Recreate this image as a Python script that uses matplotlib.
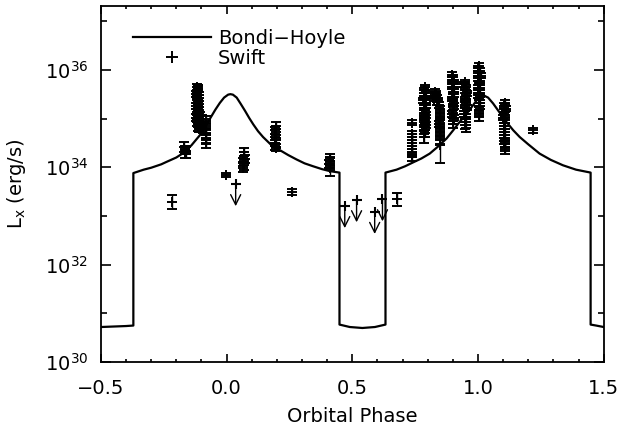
import numpy as np
import matplotlib
matplotlib.use('Agg')
import matplotlib.pyplot as plt
from matplotlib.lines import Line2D
from matplotlib.ticker import MultipleLocator, FixedLocator, FuncFormatter, NullFormatter, LogFormatterMathtext

plt.rc('font', family='DejaVu Sans', size=14)
plt.rc('axes', linewidth=1.3)

# Bondi-Hoyle model curve, log10 Lx (erg/s)
bh_phase = [-0.5, -0.45, -0.40, -0.371, -0.371, -0.33, -0.30, -0.26, -0.239, -0.20,
            -0.173, -0.14, -0.106, -0.085, -0.067, -0.045, -0.027, -0.01, 0.006, 0.015,
            0.025, 0.040, 0.055, 0.073, 0.090, 0.106, 0.125, 0.145, 0.175, 0.212,
            0.245, 0.278, 0.31, 0.344, 0.38, 0.411, 0.449, 0.449, 0.49, 0.54,
            0.59, 0.632, 0.632, 0.676, 0.71, 0.742, 0.775, 0.808, 0.84, 0.875,
            0.90, 0.927, 0.955, 0.980, 1.000, 1.020, 1.040, 1.06, 1.085, 1.113,
            1.14, 1.166, 1.20, 1.245, 1.29, 1.338, 1.39, 1.448, 1.448, 1.47, 1.5]
bh_loglx = [30.72, 30.73, 30.74, 30.75, 33.88, 33.95, 33.99, 34.06, 34.11, 34.20,
            34.29, 34.45, 34.66, 34.83, 34.99, 35.18, 35.32, 35.43, 35.49, 35.50,
            35.49, 35.43, 35.31, 35.16, 35.01, 34.88, 34.74, 34.62, 34.47, 34.35,
            34.25, 34.16, 34.08, 34.02, 33.96, 33.92, 33.89, 30.77, 30.72, 30.70,
            30.72, 30.77, 33.89, 33.95, 34.02, 34.10, 34.18, 34.28, 34.42, 34.59,
            34.75, 34.93, 35.10, 35.27, 35.41, 35.48, 35.43, 35.31, 35.13, 34.93,
            34.76, 34.62, 34.47, 34.28, 34.15, 34.04, 33.95, 33.89, 30.77, 30.75, 30.72]

# Swift detections: phase, log10 Lx, error (dex)
swift_phase = [
    -0.217,
    -0.168, -0.165, -0.162, -0.166, -0.160,
    -0.118, -0.115, -0.112, -0.120, -0.116, -0.110, -0.118, -0.113, -0.108, -0.121,
    -0.115, -0.110, -0.118, -0.112, -0.106, -0.120, -0.114, -0.108, -0.117, -0.111,
    -0.104, -0.115, -0.109, -0.100, -0.097, -0.102, -0.112, -0.109,
    -0.083, -0.081, -0.084, -0.082, -0.083, -0.081,
    -0.004,
    0.070, 0.068, 0.072, 0.066, 0.070, 0.067,
    0.195, 0.193, 0.196, 0.194, 0.197, 0.192, 0.196,
    0.262,
    0.410, 0.412, 0.408, 0.413, 0.410,
    0.676,
    0.738, 0.738, 0.736, 0.739, 0.737, 0.738, 0.736, 0.739, 0.737, 0.738,
    0.788, 0.784, 0.792, 0.786, 0.790, 0.783, 0.789, 0.794, 0.785, 0.791,
    0.787, 0.793, 0.784, 0.790, 0.786, 0.792, 0.788, 0.785, 0.790, 0.787,
    0.828, 0.834, 0.830, 0.838, 0.826, 0.842, 0.835, 0.846, 0.849, 0.847,
    0.850, 0.848, 0.846, 0.849, 0.847, 0.850, 0.848, 0.848,
    0.898, 0.902, 0.896, 0.904, 0.900, 0.897, 0.903, 0.899, 0.905, 0.901,
    0.896, 0.902, 0.899, 0.904, 0.900, 0.897, 0.903, 0.901, 0.899,
    0.950, 0.946, 0.954, 0.948, 0.956, 0.951, 0.947, 0.953, 0.949, 0.955,
    0.950, 0.946, 0.952, 0.948, 0.954, 0.950, 0.951,
    1.004, 1.000, 1.008, 1.002, 1.010, 0.999, 1.006, 1.003, 1.009, 1.001,
    1.005, 1.007, 1.002, 1.004, 1.008, 1.003, 1.006, 1.004, 1.005, 1.004,
    1.106, 1.102, 1.110, 1.104, 1.108, 1.101, 1.107, 1.105, 1.109, 1.103,
    1.106, 1.104, 1.108, 1.105, 1.107, 1.106, 1.106,
    1.217,
]
swift_loglx = [
    33.29,
    34.42, 34.36, 34.31, 34.28, 34.34,
    35.65, 35.60, 35.55, 35.50, 35.46, 35.42, 35.38, 35.34, 35.30, 35.26,
    35.22, 35.18, 35.14, 35.10, 35.06, 35.02, 34.98, 34.95, 34.92, 34.88,
    34.85, 34.82, 34.79, 34.86, 34.80, 35.00, 35.63, 35.48,
    34.98, 34.88, 34.78, 34.68, 34.58, 34.48,
    33.84,
    34.32, 34.24, 34.17, 34.10, 34.04, 33.99,
    34.85, 34.76, 34.66, 34.56, 34.48, 34.43, 34.40,
    33.49,
    34.18, 34.12, 34.07, 34.03, 33.98,
    33.34,
    34.91, 34.68, 34.62, 34.56, 34.50, 34.44, 34.38, 34.32, 34.26, 34.20,
    35.64, 35.58, 35.52, 35.47, 35.42, 35.37, 35.32, 35.27, 35.22, 35.17,
    35.12, 35.07, 35.02, 34.97, 34.92, 34.87, 34.82, 34.76, 34.70, 34.62,
    35.55, 35.52, 35.47, 35.43, 35.40, 35.38, 35.33, 35.28, 35.20, 35.12,
    35.04, 34.96, 34.88, 34.80, 34.72, 34.64, 34.55, 34.45,
    35.90, 35.85, 35.80, 35.75, 35.70, 35.65, 35.60, 35.55, 35.50, 35.45,
    35.40, 35.35, 35.30, 35.25, 35.18, 35.10, 35.02, 34.95, 34.88,
    35.75, 35.70, 35.64, 35.58, 35.52, 35.46, 35.40, 35.34, 35.28, 35.22,
    35.16, 35.10, 35.04, 34.98, 34.92, 34.86, 34.80,
    36.08, 36.03, 35.98, 35.93, 35.88, 35.83, 35.78, 35.73, 35.68, 35.63,
    35.58, 35.53, 35.48, 35.43, 35.38, 35.32, 35.25, 35.18, 35.10, 35.05,
    35.32, 35.26, 35.20, 35.14, 35.08, 35.02, 34.96, 34.90, 34.84, 34.78,
    34.72, 34.66, 34.60, 34.54, 34.48, 34.42, 34.38,
    34.76,
]
swift_err = [
    0.14,
    0.10, 0.08, 0.12, 0.09, 0.07,
    0.06, 0.06, 0.06, 0.06, 0.06, 0.06, 0.06, 0.06, 0.06, 0.06,
    0.06, 0.06, 0.06, 0.07, 0.07, 0.07, 0.07, 0.07, 0.07, 0.07,
    0.07, 0.07, 0.07, 0.07, 0.08, 0.07, 0.06, 0.06,
    0.07, 0.07, 0.07, 0.08, 0.08, 0.08,
    0.05,
    0.08, 0.08, 0.08, 0.08, 0.09, 0.09,
    0.07, 0.07, 0.07, 0.07, 0.07, 0.07, 0.07,
    0.07,
    0.09, 0.08, 0.08, 0.09, 0.15,
    0.13,
    0.05, 0.06, 0.06, 0.06, 0.06, 0.06, 0.06, 0.06, 0.06, 0.07,
    0.05, 0.05, 0.05, 0.05, 0.05, 0.05, 0.05, 0.05, 0.05, 0.05,
    0.06, 0.06, 0.06, 0.06, 0.06, 0.06, 0.06, 0.07, 0.07, 0.13,
    0.05, 0.05, 0.05, 0.05, 0.05, 0.05, 0.05, 0.06, 0.06, 0.06,
    0.06, 0.06, 0.06, 0.06, 0.06, 0.07, 0.07, 0.37,
    0.05, 0.05, 0.05, 0.05, 0.05, 0.05, 0.05, 0.05, 0.05, 0.05,
    0.05, 0.05, 0.05, 0.06, 0.06, 0.06, 0.06, 0.07, 0.07,
    0.05, 0.05, 0.05, 0.05, 0.05, 0.05, 0.05, 0.05, 0.05, 0.05,
    0.06, 0.06, 0.06, 0.06, 0.06, 0.07, 0.07,
    0.05, 0.05, 0.05, 0.05, 0.05, 0.05, 0.05, 0.05, 0.05, 0.05,
    0.05, 0.05, 0.05, 0.05, 0.06, 0.06, 0.06, 0.06, 0.07, 0.10,
    0.05, 0.05, 0.05, 0.05, 0.05, 0.05, 0.06, 0.06, 0.06, 0.06,
    0.06, 0.06, 0.07, 0.07, 0.07, 0.08, 0.10,
    0.05,
]

# Swift upper limits
ul_phase = [0.036, 0.470, 0.517, 0.589, 0.620]
ul_loglx = [33.65, 33.20, 33.32, 33.08, 33.34]
ARROW_DEX = 0.45

fig = plt.figure(figsize=(6.23, 4.28), dpi=100)
ax = fig.add_axes([0.162, 0.154, 0.807, 0.832])

ax.plot(bh_phase, 10.0 ** np.array(bh_loglx), color='black', lw=1.6, zorder=3)

y = np.array(swift_loglx)
e = np.array(swift_err)
lo = 10.0 ** y - 10.0 ** (y - e)
hi = 10.0 ** (y + e) - 10.0 ** y
ax.errorbar(swift_phase, 10.0 ** y, yerr=[lo, hi], fmt='+', color='black',
            ms=7, mew=1.4, elinewidth=1.0, capsize=3.5, capthick=1.0, zorder=4)

ax.plot(ul_phase, 10.0 ** np.array(ul_loglx), '+', color='black', ms=7, mew=1.5, zorder=4)
for px, py in zip(ul_phase, ul_loglx):
    ax.annotate('', xy=(px, 10.0 ** (py - ARROW_DEX)), xytext=(px, 10.0 ** py),
                arrowprops=dict(arrowstyle='->', lw=1.0, color='black',
                                mutation_scale=18, shrinkA=0, shrinkB=0))

ax.set_yscale('log')
ax.set_xlim(-0.5, 1.5)
ax.set_ylim(1e30, 10 ** 37.31)

ax.xaxis.set_major_locator(MultipleLocator(0.5))
ax.xaxis.set_minor_locator(MultipleLocator(0.1))
ax.xaxis.set_major_formatter(FuncFormatter(lambda v, pos: ('%.1f' % v).replace('-', '\u2212')))
ax.yaxis.set_major_locator(FixedLocator([1e30, 1e32, 1e34, 1e36]))
ax.yaxis.set_minor_locator(FixedLocator([1e31, 1e33, 1e35, 1e37]))
ax.yaxis.set_major_formatter(LogFormatterMathtext())
ax.yaxis.set_minor_formatter(NullFormatter())

ax.tick_params(which='both', direction='in', top=True, right=True, width=1.2)
ax.tick_params(axis='x', which='major', length=5.5, pad=12, labelsize=14)
ax.tick_params(axis='x', which='minor', length=2.5)
ax.tick_params(axis='y', which='major', length=7.5, pad=9, labelsize=14)
ax.tick_params(axis='y', which='minor', length=4)

ax.set_xlabel('Orbital Phase', fontsize=14, labelpad=7)
ax.set_ylabel('L$_{\\mathregular{x}}$ (erg/s)', fontsize=14, labelpad=12)

handles = [Line2D([], [], color='black', lw=1.6),
           Line2D([], [], color='black', marker='+', ls='none', ms=9, mew=1.4)]
ax.legend(handles, ['Bondi\u2212Hoyle', 'Swift'], loc='upper left',
          bbox_to_anchor=(0.064, 0.935), frameon=False, borderpad=0,
          borderaxespad=0, handlelength=4.0, handletextpad=0.35,
          labelspacing=0.05, fontsize=14)

fig.savefig('out.png', dpi=100)
